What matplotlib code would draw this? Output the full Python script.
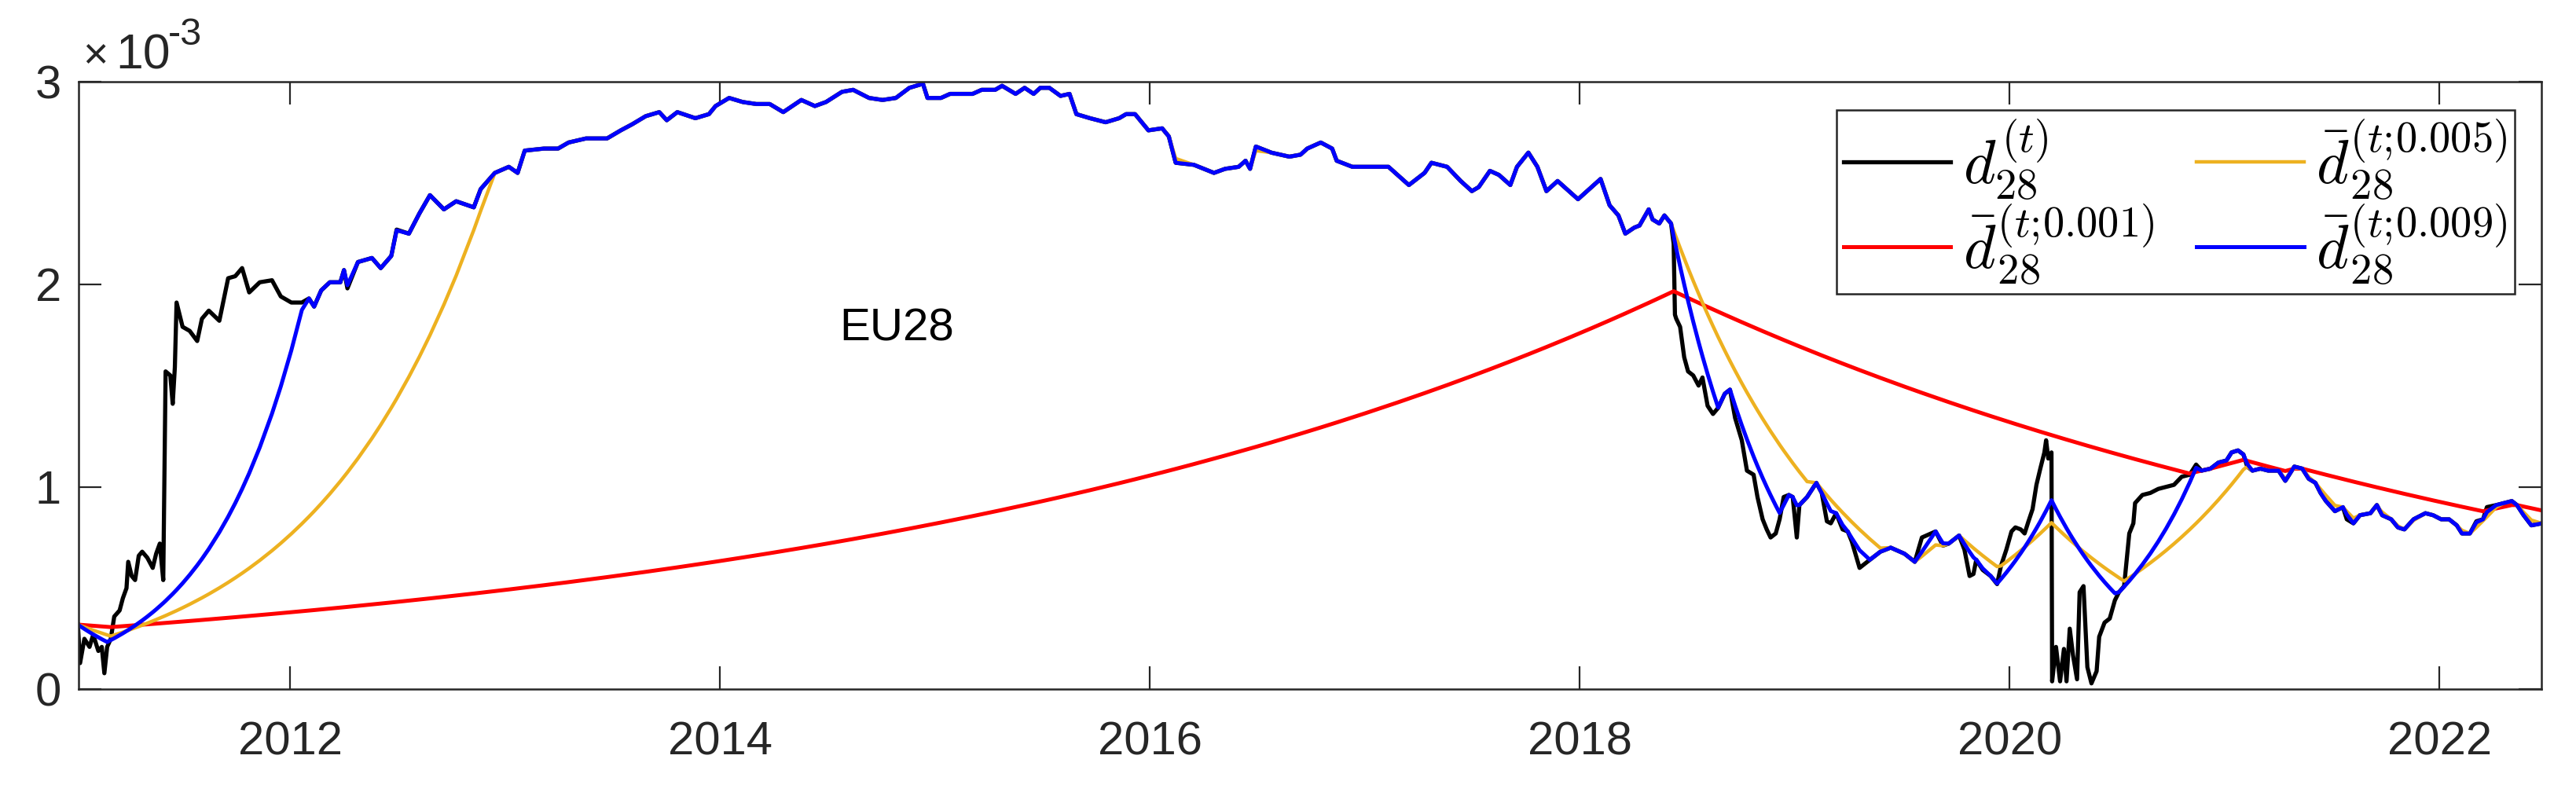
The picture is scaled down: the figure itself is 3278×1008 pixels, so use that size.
import numpy as np
import matplotlib.pyplot as plt
from matplotlib import transforms

# time in decimal years, d28 in units of 1e-3
years = [
    2011.012, 2011.022, 2011.042, 2011.066, 2011.083, 2011.107, 2011.123, 2011.135,
    2011.148, 2011.165, 2011.181, 2011.206, 2011.221, 2011.238, 2011.246, 2011.262,
    2011.278, 2011.295, 2011.311, 2011.335, 2011.360, 2011.376, 2011.393, 2011.409,
    2011.420, 2011.442, 2011.453, 2011.463, 2011.471, 2011.499, 2011.532, 2011.567,
    2011.589, 2011.621, 2011.670, 2011.711, 2011.744, 2011.776, 2011.809, 2011.858,
    2011.915, 2011.956, 2012.005, 2012.054, 2012.087, 2012.111, 2012.144, 2012.184,
    2012.233, 2012.250, 2012.266, 2012.315, 2012.380, 2012.421, 2012.470, 2012.495,
    2012.552, 2012.601, 2012.650, 2012.715, 2012.772, 2012.854, 2012.886, 2012.952,
    2013.017, 2013.058, 2013.091, 2013.180, 2013.246, 2013.295, 2013.376, 2013.474,
    2013.538, 2013.591, 2013.654, 2013.717, 2013.752, 2013.801, 2013.885, 2013.948,
    2013.979, 2014.042, 2014.105, 2014.168, 2014.231, 2014.294, 2014.378, 2014.441,
    2014.493, 2014.567, 2014.619, 2014.693, 2014.756, 2014.818, 2014.881, 2014.944,
    2014.965, 2015.028, 2015.070, 2015.175, 2015.217, 2015.280, 2015.312, 2015.375,
    2015.417, 2015.459, 2015.490, 2015.532, 2015.584, 2015.626, 2015.658, 2015.721,
    2015.794, 2015.857, 2015.889, 2015.931, 2015.993, 2016.057, 2016.088, 2016.120,
    2016.204, 2016.298, 2016.350, 2016.413, 2016.445, 2016.466, 2016.493, 2016.565,
    2016.649, 2016.701, 2016.732, 2016.795, 2016.848, 2016.869, 2016.942, 2017.005,
    2017.110, 2017.152, 2017.205, 2017.278, 2017.310, 2017.383, 2017.446, 2017.498,
    2017.530, 2017.582, 2017.624, 2017.677, 2017.708, 2017.761, 2017.803, 2017.845,
    2017.897, 2017.950, 2017.992, 2018.055, 2018.097, 2018.139, 2018.180, 2018.212,
    2018.254, 2018.278, 2018.321, 2018.339, 2018.370, 2018.394, 2018.425, 2018.437,
    2018.443, 2018.449, 2018.467, 2018.486, 2018.504, 2018.528, 2018.553, 2018.571,
    2018.595, 2018.620, 2018.644, 2018.675, 2018.699, 2018.723, 2018.754, 2018.778,
    2018.809, 2018.827, 2018.851, 2018.870, 2018.888, 2018.912, 2018.930, 2018.949,
    2018.973, 2018.991, 2019.010, 2019.022, 2019.058, 2019.101, 2019.126, 2019.150,
    2019.168, 2019.193, 2019.223, 2019.247, 2019.266, 2019.302, 2019.350, 2019.399,
    2019.447, 2019.511, 2019.559, 2019.592, 2019.656, 2019.690, 2019.717, 2019.765,
    2019.790, 2019.814, 2019.832, 2019.845, 2019.875, 2019.912, 2019.942, 2019.960,
    2019.985, 2020.009, 2020.027, 2020.052, 2020.070, 2020.088, 2020.107, 2020.125,
    2020.143, 2020.162, 2020.170, 2020.180, 2020.195, 2020.198, 2020.216, 2020.235,
    2020.253, 2020.265, 2020.280, 2020.295, 2020.314, 2020.326, 2020.344, 2020.362,
    2020.381, 2020.405, 2020.417, 2020.442, 2020.466, 2020.490, 2020.509, 2020.533,
    2020.557, 2020.576, 2020.584, 2020.618, 2020.655, 2020.692, 2020.728, 2020.765,
    2020.801, 2020.838, 2020.868, 2020.893, 2020.935, 2020.972, 2021.009, 2021.033,
    2021.063, 2021.088, 2021.106, 2021.130, 2021.167, 2021.204, 2021.252, 2021.283,
    2021.325, 2021.362, 2021.392, 2021.423, 2021.447, 2021.472, 2021.514, 2021.551,
    2021.569, 2021.600, 2021.630, 2021.679, 2021.709, 2021.734, 2021.776, 2021.807,
    2021.837, 2021.880, 2021.935, 2021.971, 2022.008, 2022.045, 2022.081, 2022.105,
    2022.142, 2022.172, 2022.203, 2022.221, 2022.264, 2022.300, 2022.337, 2022.361,
    2022.392, 2022.428, 2022.477,
]
d28 = [
    0.32, 0.13, 0.25, 0.21, 0.27, 0.19, 0.21, 0.08,
    0.21, 0.25, 0.36, 0.39, 0.45, 0.50, 0.63, 0.56,
    0.54, 0.66, 0.68, 0.65, 0.60, 0.67, 0.72, 0.54,
    1.57, 1.55, 1.41, 1.59, 1.91, 1.79, 1.77, 1.72,
    1.83, 1.87, 1.82, 2.03, 2.04, 2.08, 1.96, 2.01,
    2.02, 1.94, 1.91, 1.91, 1.93, 1.89, 1.97, 2.01,
    2.01, 2.07, 1.98, 2.11, 2.13, 2.08, 2.14, 2.27,
    2.25, 2.35, 2.44, 2.37, 2.41, 2.38, 2.47, 2.55,
    2.58, 2.55, 2.66, 2.67, 2.67, 2.70, 2.72, 2.72,
    2.76, 2.79, 2.83, 2.85, 2.81, 2.85, 2.82, 2.84,
    2.88, 2.92, 2.90, 2.89, 2.89, 2.85, 2.91, 2.88,
    2.90, 2.95, 2.96, 2.92, 2.91, 2.92, 2.97, 2.99,
    2.92, 2.92, 2.94, 2.94, 2.96, 2.96, 2.98, 2.94,
    2.97, 2.94, 2.97, 2.97, 2.93, 2.94, 2.84, 2.82,
    2.80, 2.82, 2.84, 2.84, 2.76, 2.77, 2.73, 2.60,
    2.59, 2.55, 2.57, 2.58, 2.61, 2.57, 2.68, 2.65,
    2.63, 2.64, 2.67, 2.70, 2.67, 2.61, 2.58, 2.58,
    2.58, 2.54, 2.49, 2.55, 2.60, 2.58, 2.51, 2.46,
    2.48, 2.56, 2.54, 2.49, 2.58, 2.65, 2.58, 2.46,
    2.51, 2.46, 2.42, 2.48, 2.52, 2.39, 2.34, 2.25,
    2.28, 2.29, 2.37, 2.32, 2.30, 2.34, 2.30, 2.20,
    1.85, 1.83, 1.79, 1.64, 1.57, 1.55, 1.50, 1.54,
    1.40, 1.36, 1.39, 1.46, 1.48, 1.34, 1.23, 1.08,
    1.06, 0.95, 0.84, 0.79, 0.75, 0.77, 0.84, 0.95,
    0.96, 0.95, 0.75, 0.91, 0.95, 1.02, 0.97, 0.83,
    0.82, 0.87, 0.79, 0.78, 0.73, 0.60, 0.64, 0.68,
    0.70, 0.67, 0.63, 0.75, 0.78, 0.71, 0.72, 0.76,
    0.69, 0.56, 0.57, 0.64, 0.59, 0.56, 0.52, 0.61,
    0.69, 0.78, 0.80, 0.79, 0.77, 0.83, 0.89, 1.01,
    1.09, 1.17, 1.23, 1.14, 1.17, 0.04, 0.21, 0.04,
    0.20, 0.04, 0.30, 0.17, 0.05, 0.48, 0.51, 0.11,
    0.03, 0.09, 0.26, 0.33, 0.35, 0.44, 0.48, 0.51,
    0.77, 0.82, 0.92, 0.96, 0.97, 0.99, 1.00, 1.01,
    1.05, 1.06, 1.11, 1.08, 1.09, 1.12, 1.13, 1.17,
    1.18, 1.16, 1.10, 1.08, 1.09, 1.08, 1.08, 1.03,
    1.10, 1.09, 1.04, 1.02, 0.97, 0.93, 0.88, 0.90,
    0.84, 0.82, 0.86, 0.87, 0.91, 0.86, 0.84, 0.80,
    0.79, 0.84, 0.87, 0.86, 0.84, 0.84, 0.81, 0.77,
    0.77, 0.83, 0.84, 0.90, 0.91, 0.92, 0.93, 0.91,
    0.86, 0.81, 0.82,
]

rates = [0.001, 0.005, 0.009]
rate_labels = [r'$\bar{d}_{28}^{(t;\!0.001)}$', r'$\bar{d}_{28}^{(t;\!0.005)}$',
               r'$\bar{d}_{28}^{(t;\!0.009)}$']
rate_colors = ['#ff0000', '#edb120', '#0000ff']
DAYS_PER_YEAR = 255  # trading days


def rate_limited(t, d, r):
    """follows d but moves at most by a factor exp(r) per trading day"""
    out = np.empty(len(d))
    out[0] = d[0]
    for i in range(1, len(d)):
        n = (t[i] - t[i - 1]) * DAYS_PER_YEAR
        lo = out[i - 1] * np.exp(-r * n)
        hi = out[i - 1] * np.exp(r * n)
        out[i] = min(max(d[i], lo), hi)
    return out


t = np.array(years)
d = np.array(d28)

plt.rcParams['font.family'] = ['Liberation Sans', 'DejaVu Sans']
axcol = '#262626'

fig = plt.figure(figsize=(32.78, 10.08), dpi=100)
ax = fig.add_axes([0.0305, 0.1295, 0.9561, 0.7673])

ax.plot(t, d, color='k', lw=3.8, label=r'$d_{28}^{(t)}$')
for r, lab, col in zip(rates, rate_labels, rate_colors):
    ax.plot(t, rate_limited(t, d, r), color=col, lw=3.6 if r != 0.005 else 3.2,
            label=lab)

ax.set_xlim(2011.015, 2022.475)
ax.set_ylim(0, 3)
ax.set_xticks([2012, 2014, 2016, 2018, 2020, 2022])
ax.set_yticks([0, 1, 2, 3])
ax.tick_params(direction='in', length=21, width=1.6, top=True, right=True,
               labelsize=43, colors=axcol)
ax.tick_params(axis='x', pad=29)
ax.tick_params(axis='y', pad=16)
for sp in ax.spines.values():
    sp.set_linewidth(1.8)
    sp.set_color(axcol)

# MATLAB-style exponent label above the axis
ax.text(0.0015, 1.0, '\u00d7', transform=transforms.offset_copy(
    ax.transAxes, fig=fig, x=0, y=13, units='points'),
    fontsize=40, color=axcol, ha='left', va='baseline')
ax.text(0.0150, 1.0, '10', transform=transforms.offset_copy(
    ax.transAxes, fig=fig, x=0, y=12, units='points'),
    fontsize=45, color=axcol, ha='left', va='baseline')
ax.text(0.0365, 1.0, '-3', transform=transforms.offset_copy(
    ax.transAxes, fig=fig, x=0, y=34, units='points'),
    fontsize=35, color=axcol, ha='left', va='baseline')

ax.text(2014.554, 1.78, 'EU28', fontsize=42, color='k', ha='left', va='center')

leg = ax.legend(ncol=2, loc='upper right', bbox_to_anchor=(0.989, 0.953),
                borderaxespad=0, fancybox=False, framealpha=1, edgecolor=axcol,
                prop={'size': 56, 'math_fontfamily': 'cm'}, handlelength=1.75,
                columnspacing=0.7, labelspacing=0.0, handletextpad=0.2,
                borderpad=0.12)
leg.get_frame().set_linewidth(1.8)

fig.savefig('out.png', dpi=100)
